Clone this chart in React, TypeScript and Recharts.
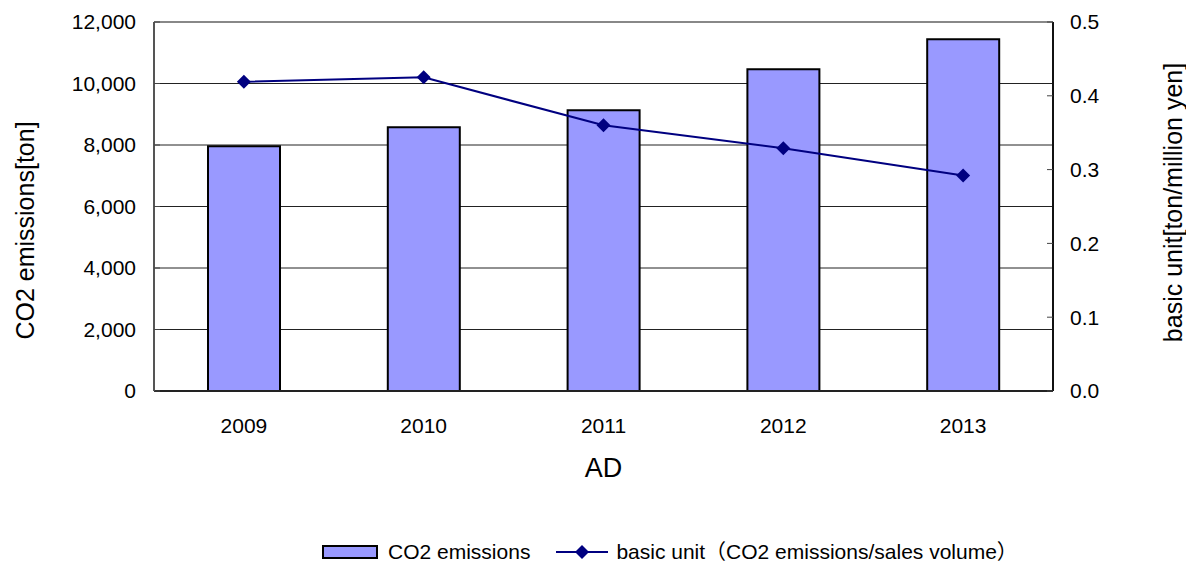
import React from 'react';
import { ComposedChart, Bar, Line, XAxis, YAxis, CartesianGrid, Legend, ReferenceLine } from 'recharts';

const years = ['2009', '2010', '2011', '2012', '2013'];
const emissions = [7960, 8580, 9130, 10460, 11440];
const basicUnit = [0.419, 0.425, 0.36, 0.329, 0.292];
const leftTicks = [0, 2000, 4000, 6000, 8000, 10000, 12000];
const rightTicks = [0, 0.1, 0.2, 0.3, 0.4, 0.5];

const barName = 'CO2 emissions';
const lineName = 'basic unit（CO2 emissions/sales volume）';

const data = years.map((year, i) => ({ year, emissions: emissions[i], unit: basicUnit[i] }));

const FONT = '"Liberation Sans", Arial, "Noto Sans CJK JP", sans-serif';
const BAR_FILL = '#9999FF';
const NAVY = '#000080';

const Diamond = (props: any) => {
    const { cx, cy } = props;
    if (cx == null || cy == null) return null;
    const r = 7;
    return <polygon points={`${cx},${cy - r} ${cx + r},${cy} ${cx},${cy + r} ${cx - r},${cy}`} fill={NAVY} />;
};

const LegendContent = () => (
    <div style={{ display: 'flex', alignItems: 'center', fontFamily: FONT, fontSize: 21, lineHeight: '22px', color: '#000', whiteSpace: 'nowrap' }}>
        <svg width={56} height={14}>
            <rect x={1} y={1} width={54} height={12} fill={BAR_FILL} stroke="#000" strokeWidth={2} />
        </svg>
        <span style={{ marginLeft: 10 }}>{barName}</span>
        <svg width={52} height={16} style={{ marginLeft: 26 }}>
            <line x1={0} y1={8} x2={52} y2={8} stroke={NAVY} strokeWidth={2} />
            <polygon points="26,1 33,8 26,15 19,8" fill={NAVY} />
        </svg>
        <span style={{ marginLeft: 8 }}>{lineName}</span>
    </div>
);

const LeftTitle = (props: any) => {
    const { x, y, height } = props.viewBox;
    const cx = x + 25;
    const cy = y + height / 2 + 24;
    return (
        <text x={cx} y={cy} transform={`rotate(-90, ${cx}, ${cy})`} textAnchor="middle" dominantBaseline="central"
            fontFamily={FONT} fontSize={25} fill="#000">
            CO2 emissions[ton]
        </text>
    );
};

const RightTitle = (props: any) => {
    const { x, y, height } = props.viewBox;
    const cx = x + 120;
    const cy = y + height / 2 - 4;
    return (
        <text x={cx} y={cy} transform={`rotate(-90, ${cx}, ${cy})`} textAnchor="middle" dominantBaseline="central"
            fontFamily={FONT} fontSize={25} fill="#000">
            basic unit[ton/million yen]
        </text>
    );
};

const BottomTitle = (props: any) => {
    const { x, y, width } = props.viewBox;
    return (
        <text x={x + width / 2} y={y + 86} textAnchor="middle" fontFamily={FONT} fontSize={27} fill="#000">
            AD
        </text>
    );
};

const tickStyle = { fontFamily: FONT, fontSize: 21, fill: '#000' };

export default function App() {
    return (
        <div style={{ position: 'absolute', left: 0, top: 0, background: '#fff' }}>
            <ComposedChart width={1186} height={566} data={data} margin={{ top: 22, right: 0, left: 0, bottom: 75 }}>
                <CartesianGrid yAxisId="left" vertical={false} stroke="#222" strokeWidth={1} />
                <XAxis
                    dataKey="year"
                    height={100}
                    tickSize={0}
                    tickLine={false}
                    tickMargin={27}
                    tick={tickStyle}
                    axisLine={{ stroke: '#222', strokeWidth: 2 }}
                    label={<BottomTitle />}
                />
                <YAxis
                    yAxisId="left"
                    orientation="left"
                    width={154}
                    domain={[0, 12000]}
                    ticks={leftTicks}
                    tickFormatter={(v: number) => v.toLocaleString('en-US')}
                    tick={tickStyle}
                    tickSize={-6}
                    tickMargin={24}
                    tickLine={{ stroke: '#444' }}
                    axisLine={{ stroke: '#555', strokeWidth: 2 }}
                    interval={0}
                    label={<LeftTitle />}
                />
                <YAxis
                    yAxisId="right"
                    orientation="right"
                    width={133}
                    domain={[0, 0.5]}
                    ticks={rightTicks}
                    tickFormatter={(v: number) => v.toFixed(1)}
                    tick={{ ...tickStyle, textAnchor: 'start' }}
                    tickSize={-6}
                    tickMargin={23}
                    tickLine={{ stroke: '#444' }}
                    axisLine={{ stroke: '#111', strokeWidth: 2 }}
                    interval={0}
                    label={<RightTitle />}
                />
                <ReferenceLine yAxisId="left" y={12000} stroke="#888" strokeWidth={2} />
                <Bar
                    yAxisId="left"
                    dataKey="emissions"
                    name={barName}
                    barSize={72}
                    fill={BAR_FILL}
                    stroke="#000"
                    strokeWidth={2}
                    isAnimationActive={false}
                />
                <Line
                    yAxisId="right"
                    dataKey="unit"
                    name={lineName}
                    type="linear"
                    stroke={NAVY}
                    strokeWidth={2}
                    dot={<Diamond />}
                    activeDot={false}
                    isAnimationActive={false}
                />
                <Legend
                    layout="horizontal"
                    verticalAlign="middle"
                    align="center"
                    content={<LegendContent />}
                    wrapperStyle={{ top: 541, left: 322, width: 'auto' }}
                />
            </ComposedChart>
        </div>
    );
}
